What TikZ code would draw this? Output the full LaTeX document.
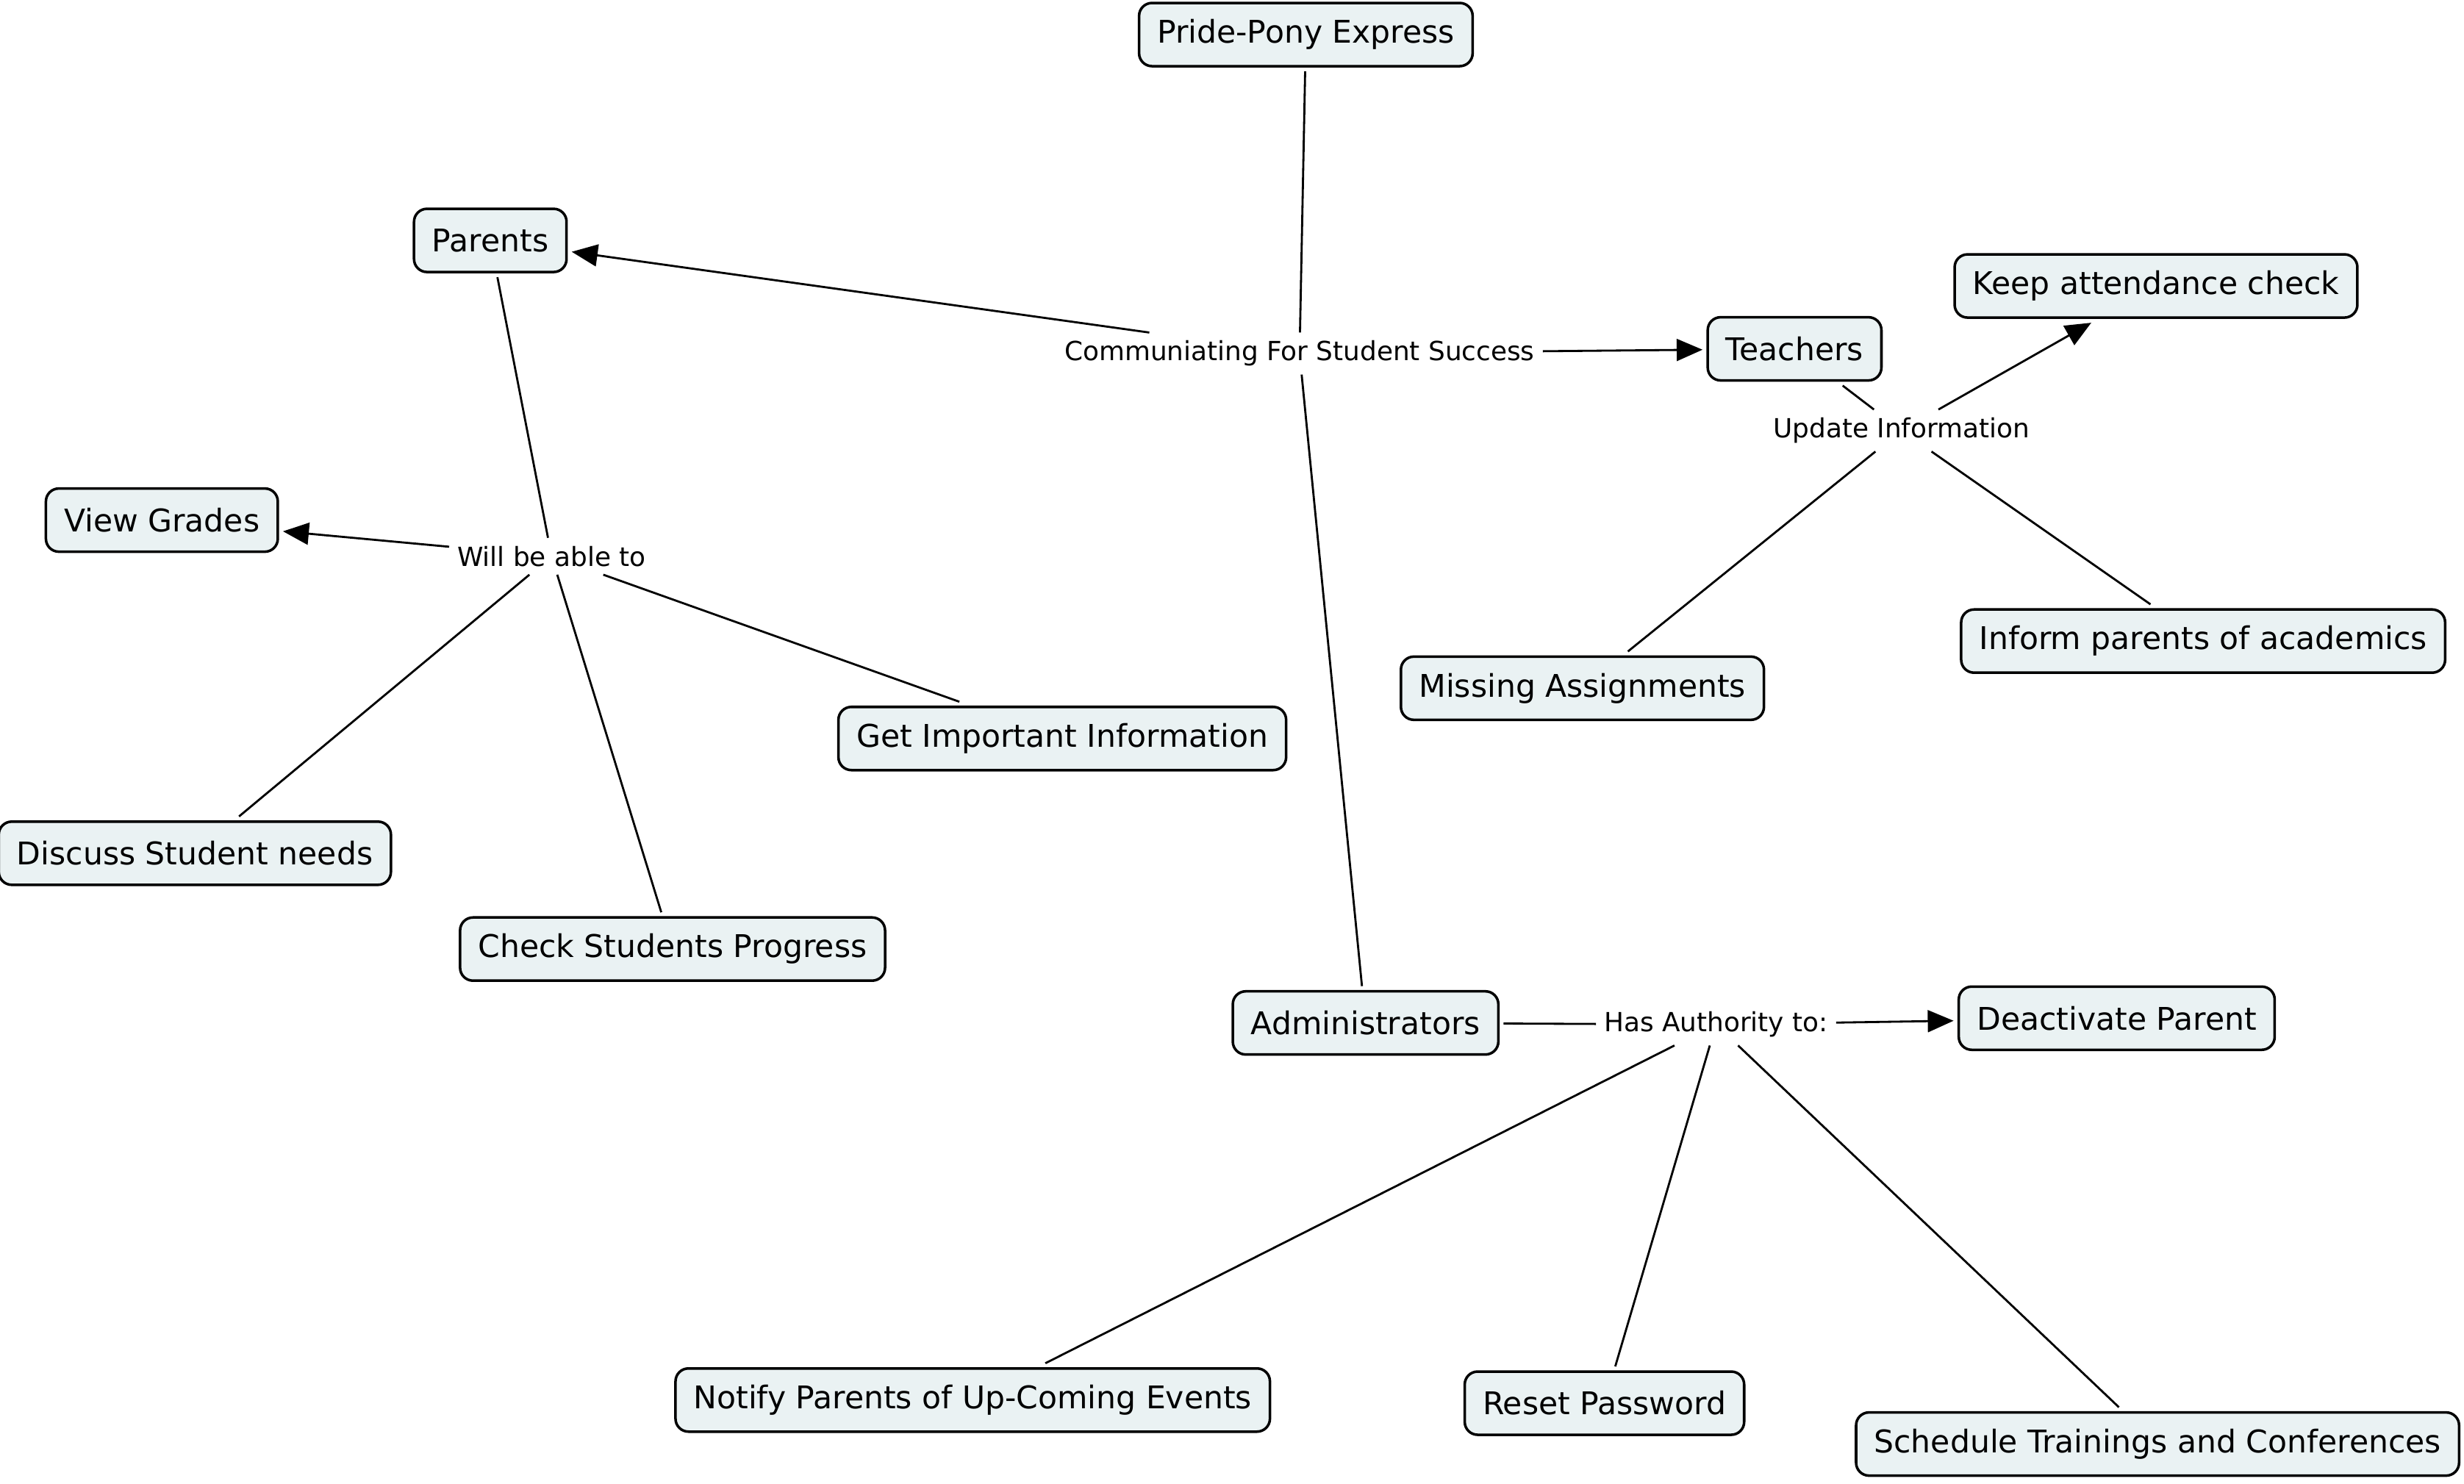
\documentclass[tikz,border=0pt]{standalone}
\usepackage{fontspec}
\setmainfont{DejaVu Sans}
\usepackage{tikz}
\usetikzlibrary{arrows.meta,positioning}
\definecolor{boxfill}{HTML}{EAF2F3}

\begin{document}
\begin{tikzpicture}[x=0.021378cm, y=-0.021378cm,
    concept/.style={draw, line width=1pt, rounded corners=5pt, fill=boxfill,
      inner xsep=7pt, minimum height=0.86cm, outer sep=2pt,
      font=\fontsize{12.1}{14}\selectfont},
    linkword/.style={inner sep=3pt, font=\fontsize{10.2}{12}\selectfont},
    link/.style={line width=0.8pt},
    linkarrow/.style={line width=0.8pt, -{Triangle[length=10pt,width=8.5pt]}}]
      \useasboundingbox (0,0) rectangle (1568,944);

      % concepts
      \node[concept] (pride) at (831, 22) {Pride-Pony Express};
      \node[concept] (parents) at (312, 153) {Parents};
      \node[concept] (teachers) at (1142, 222) {Teachers};
      \node[concept] (keep) at (1372, 182) {Keep attendance check};
      \node[concept] (missing) at (1007, 438) {Missing Assignments};
      \node[concept] (inform) at (1402, 408) {Inform parents of academics};
      \node[concept] (grades) at (103, 331) {View Grades};
      \node[concept] (important) at (676, 470) {Get Important Information};
      \node[concept] (discuss) at (124, 543) {Discuss Student needs};
      \node[concept] (progress) at (428, 604) {Check Students Progress};
      \node[concept] (admins) at (869, 651) {Administrators};
      \node[concept] (deactivate) at (1347, 648) {Deactivate Parent};
      \node[concept] (notify) at (619, 891) {Notify Parents of Up-Coming Events};
      \node[concept] (reset) at (1021, 893) {Reset Password};
      \node[concept] (schedule) at (1373, 919) {Schedule Trainings and Conferences};

      % linking words
      \node[linkword] (comm) at (827, 225) {Communiating For Student Success};
      \node[linkword] (update) at (1210, 274) {Update Information};
      \node[linkword] (will) at (351, 354) {Will be able to};
      \node[linkword] (has) at (1092, 652) {Has Authority to:};

      % connectors
      \draw[link] (pride) -- (comm);
      \draw[linkarrow] (comm) -- (parents);
      \draw[linkarrow] (comm) -- (teachers);
      \draw[link] (comm) -- (admins);

      \draw[link] (teachers) -- (update);
      \draw[linkarrow] (update) -- (keep);
      \draw[link] (update) -- (missing);
      \draw[link] (update) -- (inform);

      \draw[link] (parents) -- (will);
      \draw[linkarrow] (will) -- (grades);
      \draw[link] (will) -- (important);
      \draw[link] (will) -- (discuss);
      \draw[link] (will) -- (progress);

      \draw[link] (admins) -- (has);
      \draw[linkarrow] (has) -- (deactivate);
      \draw[link] (has) -- (notify);
      \draw[link] (has) -- (reset);
      \draw[link] (has) -- (schedule);
\end{tikzpicture}
\end{document}
